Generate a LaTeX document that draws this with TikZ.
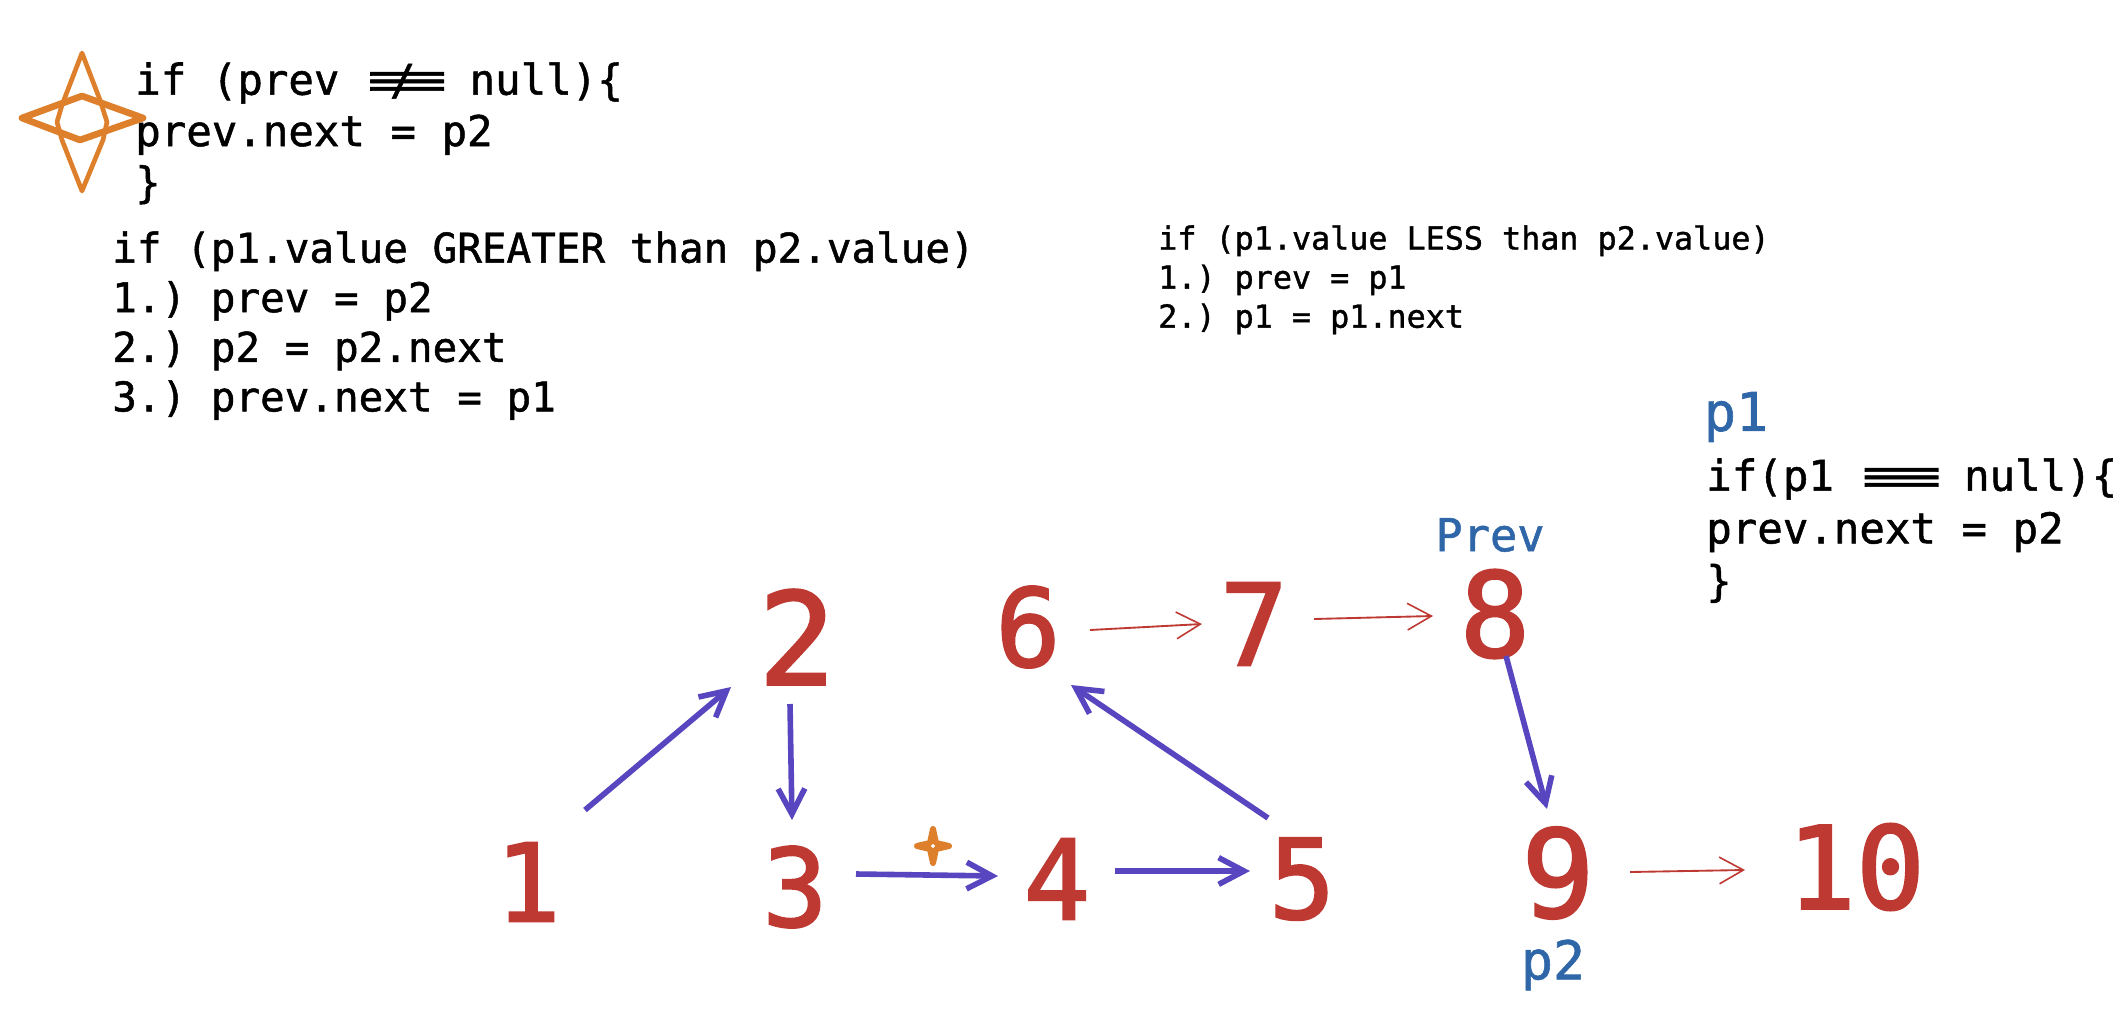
\documentclass[tikz,border=0pt]{standalone}
\usepackage{amsmath}
\usepackage{graphicx}
\usepackage{fontspec}
\usetikzlibrary{arrows.meta,calc}
\newfontfamily\codefont[FakeBold=1.2]{DejaVu Sans Mono}
\newfontfamily\numfont[FakeBold=2]{DejaVu Sans Mono}
\definecolor{numred}{RGB}{189,57,50}
\definecolor{penblue}{RGB}{87,70,191}
\definecolor{tagblue}{RGB}{46,102,168}
\definecolor{starorange}{RGB}{221,127,43}
\newcommand{\wideeq}{\scalebox{3.3}[1]{≡}\kern-0.12em}
\newcommand{\widene}{\wideeq\kern-0.98em\makebox[0pt]{/}\kern0.98em}
\frenchspacing
\tikzset{
  codetext/.style={anchor=north west,inner sep=0pt,align=left,text=black},
  num/.style={inner sep=0pt,text=numred,font=\numfont\fontsize{#1}{#1}\selectfont},
  tag/.style={inner sep=0pt,text=tagblue,font=\codefont\fontsize{#1}{#1}\selectfont},
  penarrow/.style={draw=penblue,line width=4.2pt,-{Straight Barb[length=19pt,width=20pt,line width=4.2pt]}},
  thinarrow/.style={draw=numred,line width=1.4pt,-{Straight Barb[length=18pt,width=20pt,line width=1.2pt]}},
}
\begin{document}
\begin{tikzpicture}[x=0.75pt,y=0.75pt,yscale=-1,xscale=1]
\useasboundingbox (0,0) rectangle (2124,1024);

%Numbers
\node [num=81pt] (n1) at (528,882) {1};
\node [num=96pt] (n2) at (797,637) {2};
\node [num=81pt] (n3) at (795,887) {3};
\node [num=83pt] (n4) at (1057,879) {4};
\node [num=83pt] (n5) at (1302,879) {5};
\node [num=81pt] (n6) at (1028,627) {6};
\node [num=85pt] (n7) at (1254,624) {7};
\node [num=88pt] (n8) at (1495,614) {8};
\node [num=91pt] (n9) at (1558,873) {9};
\node [num=86pt] (n10) at (1856,867) {10};

%Tags
\node [tag=34pt] (prevtag) at (1490,535) {Prev};
\node [tag=40pt] (ptwotag) at (1553,965) {p2};
\node [tag=40pt] (ponetag) at (1736,417) {p1};

% Text Node
\node [codetext,font=\codefont\fontsize{31.8pt}{38.5pt}\selectfont] (nullcheck) at (135,62) {if (prev \widene{} null)\{\\prev.next = p2\\\}};
% Text Node
\node [codetext,font=\codefont\fontsize{30.7pt}{37.2pt}\selectfont] (greater) at (112,231) {if (p1.value GREATER than p2.value)\\1.) prev = p2\\2.) p2 = p2.next\\3.) prev.next = p1};
% Text Node
\node [codetext,font=\codefont\fontsize{23.8pt}{29.3pt}\selectfont] (less) at (1158,225) {if (p1.value LESS than p2.value)\\1.) prev = p1\\2.) p1 = p1.next};
% Text Node
\node [codetext,font=\codefont\fontsize{31.8pt}{39.5pt}\selectfont] (endcheck) at (1706,458) {if(p1 \wideeq{} null)\{\\prev.next = p2\\\}};

%Thick arrows
\draw [penarrow] ($(n1)+(57,-72)$) -- ($(n2)+(-66,50)$);
\draw [penarrow] ($(n2)+(-7,67)$) -- ($(n3)+(-3,-67)$);
\draw [penarrow] ($(n3)+(61,-13)$) -- ($(n4)+(-59,-3)$);
\draw [penarrow] ($(n4)+(58,-8)$) -- ($(n5)+(-52,-8)$);
\draw [penarrow] ($(n5)+(-34,-61)$) -- ($(n6)+(43,58)$);
\draw [penarrow] ($(n8)+(11,42)$) -- ($(n9)+(-11,-64)$);
%Thin arrows
\draw [thinarrow] ($(n6)+(62,3)$) -- ($(n7)+(-52,0)$);
\draw [thinarrow] ($(n7)+(60,-5)$) -- ($(n8)+(-62,2)$);
\draw [thinarrow] ($(n9)+(72,-1)$) -- ($(n10)+(-111,3)$);

%Big star
\draw [starorange,line width=3.5pt,line join=round] (82,53) -- (62,105) -- (57,122) -- (62,140) -- (82,191) -- (103,140) -- (107,122) -- (100,100) -- cycle;
\draw [starorange,line width=5pt,line join=round] (22,118) -- (82,96) -- (143,118) -- (80,140) -- cycle;
%Small star
\draw [starorange,line width=4.5pt,line join=round] (933,829) -- (936,843) -- (949,846) -- (936,849) -- (933,863) -- (930,849) -- (917,846) -- (930,843) -- cycle;
\end{tikzpicture}
\end{document}
